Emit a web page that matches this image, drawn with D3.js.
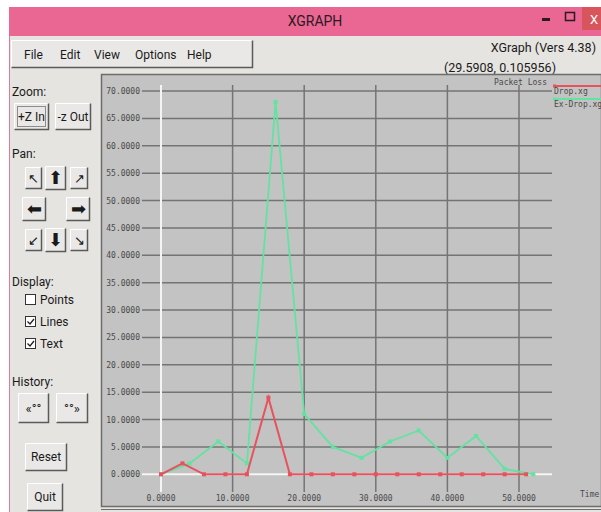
<!DOCTYPE html>
<html>
<head>
<meta charset="utf-8">
<script src="https://cdn.jsdelivr.net/npm/d3@7"></script>
<style>
  body { margin: 0; background: #fff; }
  svg { display: block; }
</style>
</head>
<body>
<script>
// chart data
const dropX = [0, 3, 6, 9, 12, 15, 18, 21, 24, 27, 30, 33, 36, 39, 42, 45, 48, 51];
const dropY = [0, 2, 0, 0, 0, 14, 0, 0, 0, 0, 0, 0, 0, 0, 0, 0, 0, 0];
const exDropX = [0, 4, 8, 12, 16, 20, 24, 28, 32, 36, 40, 44, 48, 52];
const exDropY = [0, 2, 6, 2, 68, 11, 5, 3, 6, 8, 3, 7, 1, 0];
const xTicks = [0, 10, 20, 30, 40, 50];
const yTicks = [0, 5, 10, 15, 20, 25, 30, 35, 40, 45, 50, 55, 60, 65, 70];
const seriesNames = ["Drop.xg", "Ex-Drop.xg"];
const seriesColors = ["#e8525c", "#62e3a1"];
const menuItems = ["File", "Edit", "View", "Options", "Help"];

const W = 601, H = 512;
const uiFont = "Roboto, 'Noto Sans', sans-serif";
const monoFont = "'DejaVu Sans Mono', monospace";

const svg = d3.select('body').append('svg')
    .attr('width', W)
    .attr('height', H);

// window frame
svg.append('rect').attr('width', W).attr('height', H).attr('fill', '#ffffff');
svg.append('rect').attr('x', 9).attr('y', 7).attr('width', W - 9).attr('height', H - 7).attr('fill', '#e6e4e1');
svg.append('line').attr('x1', 9.5).attr('x2', 9.5).attr('y1', 7).attr('y2', H).attr('stroke', '#e07a9c').attr('stroke-width', 1);

// title bar
svg.append('rect').attr('x', 9).attr('y', 7).attr('width', W - 9).attr('height', 29).attr('fill', '#ea6693');
svg.append('rect').attr('x', 582).attr('y', 7).attr('width', 19).attr('height', 23).attr('fill', '#d8555b');
svg.append('text').attr('x', 315).attr('y', 26).attr('text-anchor', 'middle')
    .attr('font-family', uiFont).attr('font-size', 14).attr('fill', '#2a1a22').text('XGRAPH');
svg.append('rect').attr('x', 542).attr('y', 18).attr('width', 8).attr('height', 3).attr('fill', '#2a1a22');
svg.append('rect').attr('x', 565.5).attr('y', 12.5).attr('width', 9).attr('height', 8).attr('fill', 'none')
    .attr('stroke', '#2a1a22').attr('stroke-width', 1.5);
svg.append('text').attr('x', 590).attr('y', 24).attr('font-family', uiFont).attr('font-size', 13)
    .attr('fill', '#ffffff').text('X');

// menu bar
function bevel(g, x, y, w, h, sunken) {
    g.append('rect').attr('x', x).attr('y', y).attr('width', w).attr('height', h).attr('fill', '#e9e8e6');
    g.append('path').attr('d', `M${x + 0.5},${y + h - 0.5}V${y + 0.5}H${x + w - 0.5}`)
        .attr('fill', 'none').attr('stroke', sunken ? '#6b6b6b' : '#ffffff').attr('stroke-width', 1);
    g.append('path').attr('d', `M${x + 0.5},${y + h - 0.5}H${x + w - 0.5}V${y + 0.5}`)
        .attr('fill', 'none').attr('stroke', sunken ? '#ffffff' : '#5a5a5a').attr('stroke-width', 1.5);
}
bevel(svg, 11, 40, 242, 28, false);
const menuX = [24, 60, 94, 135, 187];
svg.append('g').selectAll('text').data(menuItems).enter().append('text')
    .attr('x', (d, i) => menuX[i]).attr('y', 59)
    .attr('font-family', uiFont).attr('font-size', 12).attr('fill', '#1a1a1a')
    .text(d => d);
svg.append('text').attr('x', 596).attr('y', 52).attr('text-anchor', 'end')
    .attr('font-family', uiFont).attr('font-size', 12.5).attr('fill', '#1a1a1a').text('XGraph (Vers 4.38)');
svg.append('text').attr('x', 556).attr('y', 72).attr('text-anchor', 'end')
    .attr('font-family', uiFont).attr('font-size', 12.5).attr('fill', '#1a1a1a').text('(29.5908, 0.105956)');

// left control panel
const panel = svg.append('g');
function label(txt, x, y) {
    panel.append('text').attr('x', x).attr('y', y).attr('font-family', uiFont)
        .attr('font-size', 12).attr('fill', '#1a1a1a').text(txt);
}
function button(txt, x, y, w, h, size) {
    bevel(panel, x, y, w, h, false);
    panel.append('text').attr('x', x + w / 2).attr('y', y + h / 2 + (size || 12) * 0.36)
        .attr('text-anchor', 'middle').attr('font-family', uiFont)
        .attr('font-size', size || 12).attr('fill', '#1a1a1a').text(txt);
}
label('Zoom:', 12, 96);
button('+Z In', 14, 103, 35, 27);
panel.append('rect').attr('x', 17.5).attr('y', 106.5).attr('width', 28).attr('height', 20)
    .attr('fill', 'none').attr('stroke', '#333').attr('stroke-dasharray', '1,1');
button('-z Out', 55, 103, 36, 27);
label('Pan:', 12, 158);
const arrows = [
    ['\u2196', 25, 167, 17, 22, 13], ['\u2B06', 45, 166, 21, 24, 18], ['\u2197', 70, 167, 18, 22, 13],
    ['\u2B05', 22, 197, 24, 24, 18], ['\u27A1', 66, 197, 24, 24, 18],
    ['\u2199', 25, 229, 17, 22, 13], ['\u2B07', 45, 228, 21, 24, 18], ['\u2198', 70, 229, 18, 22, 13]
];
arrows.forEach(a => button(a[0], a[1], a[2], a[3], a[4], a[5]));
label('Display:', 12, 286);
['Points', 'Lines', 'Text'].forEach((t, i) => {
    const y = 294 + i * 22;
    panel.append('rect').attr('x', 25.5).attr('y', y + 0.5).attr('width', 10).attr('height', 10)
        .attr('fill', '#ffffff').attr('stroke', '#333').attr('stroke-width', 1);
    if (i > 0) {
        panel.append('path').attr('d', `M27.5,${y + 5.5}l2.5,2.5l4,-5`)
            .attr('fill', 'none').attr('stroke', '#222').attr('stroke-width', 1.3);
    }
    label(t, 40, y + 10);
});
label('History:', 12, 386);
button('\u00AB\u00B0\u00B0', 18, 393, 31, 30, 13);
button('\u00B0\u00B0\u00BB', 56, 393, 32, 30, 13);
button('Reset', 25, 443, 42, 28);
button('Quit', 27, 483, 36, 28);

// plot window
svg.append('rect').attr('x', 101.5).attr('y', 74.5).attr('width', 500).attr('height', 432)
    .attr('fill', '#c3c3c3').attr('stroke', '#6c6c6c').attr('stroke-width', 1.5);
svg.append('line').attr('x1', 101).attr('x2', W).attr('y1', 509.5).attr('y2', 509.5)
    .attr('stroke', '#6c6c6c').attr('stroke-width', 1);

const x = d3.scaleLinear().domain([0, 50]).range([161, 519]);
const y = d3.scaleLinear().domain([0, 70]).range([474.3, 91]);

const grid = svg.append('g');
// horizontal grid
grid.selectAll('.hgrid').data(yTicks).enter().append('line')
    .attr('x1', 142).attr('x2', 552)
    .attr('y1', d => y(d)).attr('y2', d => y(d))
    .attr('stroke', d => d === 0 ? '#f4f4f4' : '#747474')
    .attr('stroke-width', d => d === 0 ? 2 : 1.5);
// vertical grid
grid.selectAll('.vgrid').data(xTicks).enter().append('line')
    .attr('x1', d => x(d)).attr('x2', d => x(d))
    .attr('y1', 85).attr('y2', 492)
    .attr('stroke', d => d === 0 ? '#f4f4f4' : '#747474')
    .attr('stroke-width', d => d === 0 ? 2 : 1.5);

// tick labels
const fmt = d3.format('.4f');
grid.selectAll('.ylab').data(yTicks).enter().append('text')
    .attr('x', 140).attr('y', d => y(d) + 3)
    .attr('text-anchor', 'end').attr('font-family', monoFont).attr('font-size', 8)
    .attr('fill', '#4a4a4a').text(d => fmt(d));
grid.selectAll('.xlab').data(xTicks).enter().append('text')
    .attr('x', d => x(d)).attr('y', 501)
    .attr('text-anchor', 'middle').attr('font-family', monoFont).attr('font-size', 8)
    .attr('fill', '#4a4a4a').text(d => fmt(d));

// titles
svg.append('text').attr('x', 547).attr('y', 85).attr('text-anchor', 'end')
    .attr('font-family', monoFont).attr('font-size', 8).attr('fill', '#4a4a4a').text('Packet Loss');
svg.append('text').attr('x', 580).attr('y', 497)
    .attr('font-family', monoFont).attr('font-size', 8).attr('fill', '#4a4a4a').text('Time');

// series
const series = [
    { name: seriesNames[1], color: seriesColors[1], xs: exDropX, ys: exDropY, width: 1.8 },
    { name: seriesNames[0], color: seriesColors[0], xs: dropX, ys: dropY, width: 2 }
];
const line = d3.line().x(d => x(d[0])).y(d => y(d[1]));
series.forEach(s => {
    const pts = s.xs.map((v, i) => [v, s.ys[i]]);
    svg.append('path').datum(pts).attr('d', line)
        .attr('fill', 'none').attr('stroke', s.color).attr('stroke-width', s.width);
    svg.append('g').selectAll('rect').data(pts).enter().append('rect')
        .attr('x', d => x(d[0]) - 2).attr('y', d => y(d[1]) - 2)
        .attr('width', 4).attr('height', 4).attr('fill', s.color);
});

// legend
seriesNames.forEach((n, i) => {
    const ly = 86 + i * 13;
    svg.append('line').attr('x1', 554).attr('x2', W).attr('y1', ly).attr('y2', ly)
        .attr('stroke', seriesColors[i]).attr('stroke-width', 2);
    svg.append('rect').attr('x', 553).attr('y', ly - 1.5).attr('width', 3).attr('height', 3).attr('fill', seriesColors[i]);
    svg.append('text').attr('x', 554).attr('y', ly + 8)
        .attr('font-family', monoFont).attr('font-size', 8).attr('fill', '#4a4a4a').text(n);
});
</script>
</body>
</html>
